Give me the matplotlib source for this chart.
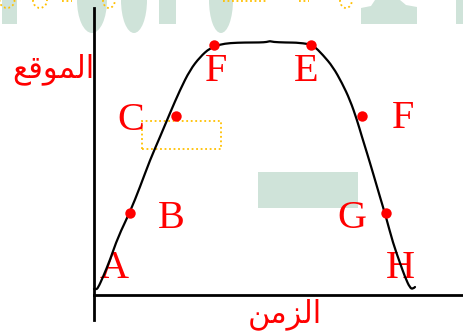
import matplotlib
matplotlib.use("Agg")
import matplotlib.pyplot as plt
from matplotlib.patches import Rectangle, Ellipse, Polygon, Arc, PathPatch
from matplotlib.path import Path

# ---------------- data (time, position) in chart units ----------------
# sampled outline of the position-time curve (pixel-like units, origin at axes corner)
curve_px_x = [94, 96, 98, 103, 110, 118, 130, 140, 150, 160, 170, 180, 190, 200,
              210, 220, 230, 245, 260, 267, 270, 273, 285, 300, 313, 323, 333,
              342, 350, 357, 362, 367, 373, 380, 386, 393, 400, 405, 410, 413, 415]
curve_px_y = [289, 289.5, 288, 277, 260, 237, 212, 187, 160, 137, 113, 90, 70, 57,
              48, 44.5, 43, 42.5, 42.5, 42, 41, 42, 42.5, 42.7, 45, 55, 67,
              83, 100, 120, 137, 153, 173, 197, 217, 243, 263, 277, 288, 289, 287]

dot_names = ["B", "C", "F", "E", "F", "G"]
dot_px_x = [130, 176, 214, 311, 362, 386]
dot_px_y = [213, 116, 45, 45, 116, 213]

label_names = ["A", "B", "C", "F", "E", "F", "G", "H"]
label_px_x = [114, 171, 131, 216, 306, 403, 352, 400]
label_px_y = [264, 214, 116, 67, 67, 114, 214, 264]

y_label = "\uFECA\uFED7\uFEEE\uFEE4\uFEDF\uFE8D"   # الموقع (pre-shaped, visual order)
x_label = "\uFEE6\uFEE3\uFEB0\uFEDF\uFE8D"         # الزمن (pre-shaped, visual order)

ORIGIN_X, ORIGIN_Y = 94, 295
def tx(v):
    return [a - ORIGIN_X for a in v] if isinstance(v, list) else v - ORIGIN_X
def ty(v):
    return [ORIGIN_Y - a for a in v] if isinstance(v, list) else ORIGIN_Y - v

W, H = 464, 336
fig = plt.figure(figsize=(W / 100, H / 100), dpi=100)
fig.patch.set_facecolor("white")

# axes: left spine x=94px (y 8..320), bottom spine at y=295px (x 94..462)
ax = fig.add_axes([94 / W, (H - 320) / H, (462 - 94) / W, (320 - 8) / H])
ax.set_xlim(0, 462 - 94)
ax.set_ylim(ORIGIN_Y - 320, ORIGIN_Y - 8)
ax.set_facecolor("none")
for s in ["top", "right"]:
    ax.spines[s].set_visible(False)
ax.spines["bottom"].set_position(("data", 0))
ax.spines["left"].set_linewidth(2.0)
ax.spines["bottom"].set_linewidth(2.0)
ax.set_xticks([])
ax.set_yticks([])

# ---------------- background decorations ----------------
green = "#cfe3d9"
gold = "#ffc000"
deco = dict(clip_on=False, zorder=0)
def rect(x0, y0, x1, y1, **kw):
    return Rectangle((tx(x0), ty(y1)), x1 - x0, y1 - y0, **kw)

ax.add_patch(rect(2, 0, 17, 24, fc=green, ec="none", **deco))
ax.add_patch(Ellipse((tx(92), ty(0)), 30, 66, fc=green, ec="none", **deco))
ax.add_patch(Ellipse((tx(134), ty(0)), 26, 66, fc=green, ec="none", **deco))
ax.add_patch(rect(159, 0, 176, 24, fc=green, ec="none", **deco))
ax.add_patch(Ellipse((tx(221), ty(0)), 24, 66, fc=green, ec="none", **deco))
trap = [(361, 24), (417, 24), (417, 7), (406, 5), (400, 0), (375, 0), (371, 6), (361, 8)]
ax.add_patch(Polygon([(tx(a), ty(b)) for a, b in trap], fc=green, ec="none", **deco))
ax.add_patch(rect(456, 0, 464, 24, fc=green, ec="none", **deco))
ax.add_patch(rect(258, 172, 358, 208, fc=green, ec="none", **deco))

arc_kw = dict(color=gold, lw=1.3, ls=(0, (1, 1.5)), clip_on=False, zorder=0)
for cx, w in [(7, 15), (40, 14), (109, 12), (346, 12)]:
    ax.add_patch(Arc((tx(cx), ty(0)), w, 16, theta1=180, theta2=360, **arc_kw))
ax.plot([tx(62), tx(72)], [ty(1), ty(1)], **arc_kw)
ax.plot([tx(223), tx(267)], [ty(1), ty(1)], **arc_kw)
ax.plot([tx(299), tx(309)], [ty(1), ty(1)], **arc_kw)
ax.add_patch(rect(142, 121, 221, 149, fill=False, ec=gold, lw=1.3,
                  ls=(0, (1, 1.5)), clip_on=False, zorder=1))

# ---------------- labels ----------------
serif = ["Liberation Serif", "DejaVu Serif"]
for name, lx, ly in zip(label_names, label_px_x, label_px_y):
    ax.text(tx(lx), ty(ly) - 14, name, color="red", fontsize=29, family=serif,
            ha="center", va="baseline", zorder=2, clip_on=False)

# ---------------- curve (smooth quadratic path through the samples) and dots ----------------
cx_, cy_ = tx(curve_px_x), ty(curve_px_y)
pts = list(zip(cx_, cy_))
verts = [pts[0]]
codes = [Path.MOVETO]
for i in range(1, len(pts) - 1):
    mid = ((pts[i][0] + pts[i + 1][0]) / 2, (pts[i][1] + pts[i + 1][1]) / 2)
    if i == len(pts) - 2:
        mid = pts[-1]
    verts += [pts[i], mid]
    codes += [Path.CURVE3, Path.CURVE3]
ax.add_patch(PathPatch(Path(verts, codes), fill=False, ec="black", lw=1.6,
                       zorder=3, clip_on=False, joinstyle="round", capstyle="round"))
ax.plot(tx(dot_px_x), ty(dot_px_y), "o", color="red", ms=7.5, mec="none", zorder=4)

ax.text(tx(53), ty(69), y_label, color="red", fontsize=22, family=["DejaVu Sans"],
        ha="center", va="center", clip_on=False)
ax.text(tx(285), ty(314), x_label, color="red", fontsize=22, family=["DejaVu Sans"],
        ha="center", va="center", clip_on=False)

fig.savefig("out.png", dpi=100, facecolor="white")
